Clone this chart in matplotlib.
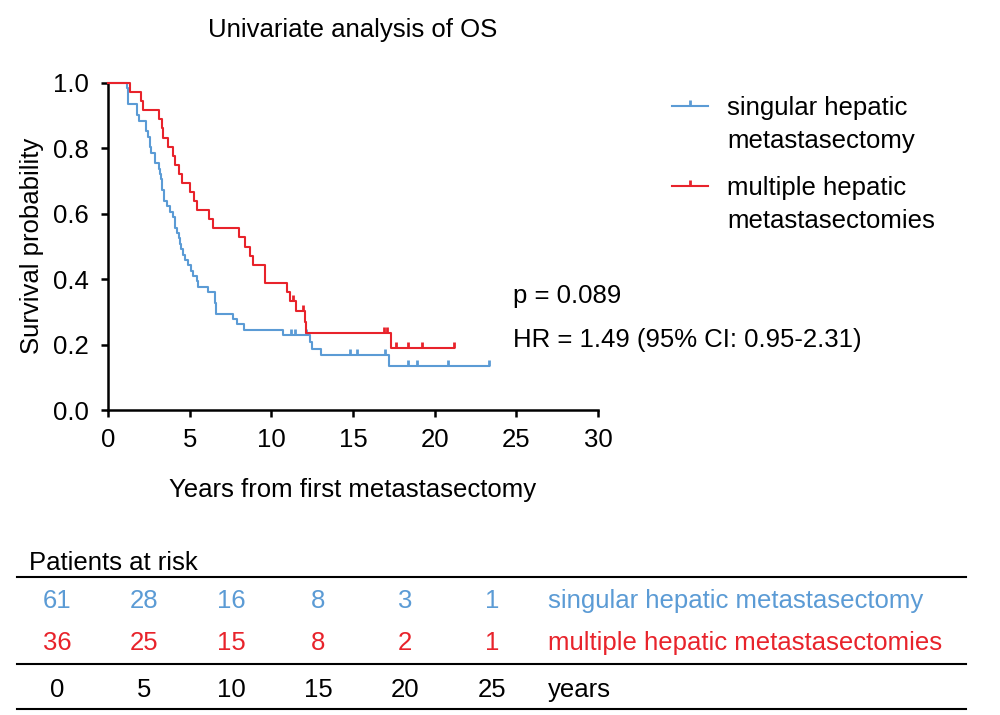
import numpy as np
import matplotlib
matplotlib.use("Agg")
import matplotlib.pyplot as plt
from matplotlib.lines import Line2D
from matplotlib.path import Path

plt.rcParams['font.family'] = ['Liberation Sans', 'DejaVu Sans']

BLUE = '#5b9bd5'
RED = '#e8232b'
FS = 18.5

# ---------------- data ----------------
singular_death_times = [1.16, 1.20, 1.22, 1.25, 1.75, 1.80, 1.90, 2.30, 2.35, 2.45,
                        2.57, 2.60, 2.63, 2.85, 2.88, 3.15, 3.18, 3.27, 3.29, 3.31,
                        3.40, 3.43, 3.61, 3.80, 4.00, 4.08, 4.10, 4.24, 4.35, 4.43,
                        4.45, 4.57, 4.72, 4.92, 5.06, 5.22, 5.42, 5.48, 6.12, 6.53,
                        6.55, 6.60, 6.61, 7.65, 7.90, 8.33, 10.72, 12.37, 12.50, 13.04,
                        17.23]
singular_censor_times = [11.19, 11.45, 12.12, 14.82, 15.23, 16.98, 18.35, 18.90, 20.84, 23.35]

multiple_death_times = [1.35, 2.00, 2.16, 3.14, 3.29, 3.39, 3.65, 4.00, 4.10, 4.37,
                        4.51, 5.02, 5.27, 5.47, 6.20, 6.45, 8.04, 8.39, 8.70, 8.86,
                        9.61, 9.62, 10.98, 11.15, 11.50, 12.05, 12.12, 17.33]
multiple_censor_times = [11.30, 11.94, 16.90, 17.10, 17.64, 18.35, 19.21, 21.19]

group_labels = ['singular hepatic metastasectomy', 'multiple hepatic metastasectomies']
legend_lines = [['singular hepatic', 'metastasectomy'], ['multiple hepatic', 'metastasectomies']]
risk_times = [0, 5, 10, 15, 20, 25]
risk_singular = [61, 28, 16, 8, 3, 1]
risk_multiple = [36, 25, 15, 8, 2, 1]
x_ticks = [0, 5, 10, 15, 20, 25, 30]
y_ticks = [0.0, 0.2, 0.4, 0.6, 0.8, 1.0]
title = 'Univariate analysis of OS'
x_label = 'Years from first metastasectomy'
y_label = 'Survival probability'
p_text = 'p = 0.089'
hr_text = 'HR = 1.49 (95% CI: 0.95-2.31)'


def km(deaths, censors):
    times = np.array(list(deaths) + list(censors), float)
    ev = np.array([1] * len(deaths) + [0] * len(censors))
    xs, ys = [0.0], [1.0]
    s = 1.0
    for t in np.unique(times):
        d = np.sum((times == t) & (ev == 1))
        n = np.sum(times >= t)
        if d > 0:
            s *= 1.0 - d / n
            xs.append(t)
            ys.append(s)
    xs.append(times.max())
    ys.append(s)
    xs, ys = np.array(xs), np.array(ys)
    cs = np.array(sorted(censors), float)
    cy = np.array([ys[np.searchsorted(xs, c, side='right') - 1] for c in cs])
    return xs, ys, cs, cy


W, H = 1000, 715
fig = plt.figure(figsize=(W / 100, H / 100), dpi=100)


def fx(px):
    return px / W


def fy(py):
    return 1 - py / H


ax = fig.add_axes([fx(108), fy(410), fx(598) - fx(108), fy(83) - fy(410)])

tick_marker = Path([(0, 0), (0, 1)], [Path.MOVETO, Path.LINETO])

for deaths, censors, col in [(singular_death_times, singular_censor_times, BLUE),
                             (multiple_death_times, multiple_censor_times, RED)]:
    xs, ys, cs, cy = km(deaths, censors)
    ax.step(xs, ys, where='post', color=col, lw=1.5, clip_on=False, zorder=3)
    ax.plot(cs, cy, ls='none', marker=tick_marker, ms=9, mew=2.0,
            mec=col, mfc='none', clip_on=False, zorder=3)

ax.set_xlim(0, 30)
ax.set_ylim(0, 1.0)
ax.set_xticks(x_ticks)
ax.set_yticks(y_ticks)
ax.set_yticklabels([f'{v:.1f}' for v in y_ticks])
for s in ['top', 'right']:
    ax.spines[s].set_visible(False)
for s in ['left', 'bottom']:
    ax.spines[s].set_linewidth(1.8)
ax.tick_params(axis='both', length=5, width=1.8, labelsize=FS, colors='black')
ax.tick_params(axis='x', pad=8)
ax.tick_params(axis='y', pad=9)

fig.text(fx(353), fy(37), title, ha='center', va='baseline', fontsize=FS)
fig.text(fx(353), fy(497), x_label, ha='center', va='baseline', fontsize=FS)
fig.text(fx(32), fy(246), y_label, ha='center', va='center', rotation=90, fontsize=FS)

# legend
for (ly, col, lines) in [(106, BLUE, legend_lines[0]), (186, RED, legend_lines[1])]:
    fig.add_artist(Line2D([fx(672), fx(708)], [fy(ly), fy(ly)], color=col, lw=1.5,
                          transform=fig.transFigure))
    fig.add_artist(Line2D([fx(690)], [fy(ly)], ls='none', marker=tick_marker, ms=9, mew=2.0,
                          mec=col, mfc='none', transform=fig.transFigure))
    fig.text(fx(727), fy(ly + 9), lines[0], ha='left', va='baseline', fontsize=FS)
    fig.text(fx(727), fy(ly + 42), lines[1], ha='left', va='baseline', fontsize=FS)

fig.text(fx(513), fy(303), p_text, ha='left', va='baseline', fontsize=FS)
fig.text(fx(513), fy(347), hr_text, ha='left', va='baseline', fontsize=FS)

# risk table
fig.text(fx(29), fy(570), 'Patients at risk', ha='left', va='baseline', fontsize=FS)
for ly in [577, 663.5, 709]:
    fig.add_artist(Line2D([fx(17), fx(966)], [fy(ly), fy(ly)], color='black', lw=1.5,
                          transform=fig.transFigure))


def col_x(t):
    return fx(57 + t * 17.4)


for t, a, b in zip(risk_times, risk_singular, risk_multiple):
    fig.text(col_x(t), fy(608), str(a), ha='center', va='baseline', fontsize=FS, color=BLUE)
    fig.text(col_x(t), fy(650), str(b), ha='center', va='baseline', fontsize=FS, color=RED)
    fig.text(col_x(t), fy(697), str(t), ha='center', va='baseline', fontsize=FS, color='black')
fig.text(fx(548), fy(608), group_labels[0], ha='left', va='baseline', fontsize=FS, color=BLUE)
fig.text(fx(548), fy(650), group_labels[1], ha='left', va='baseline', fontsize=FS, color=RED)
fig.text(fx(548), fy(697), 'years', ha='left', va='baseline', fontsize=FS, color='black')

fig.savefig('out.png', dpi=100)
